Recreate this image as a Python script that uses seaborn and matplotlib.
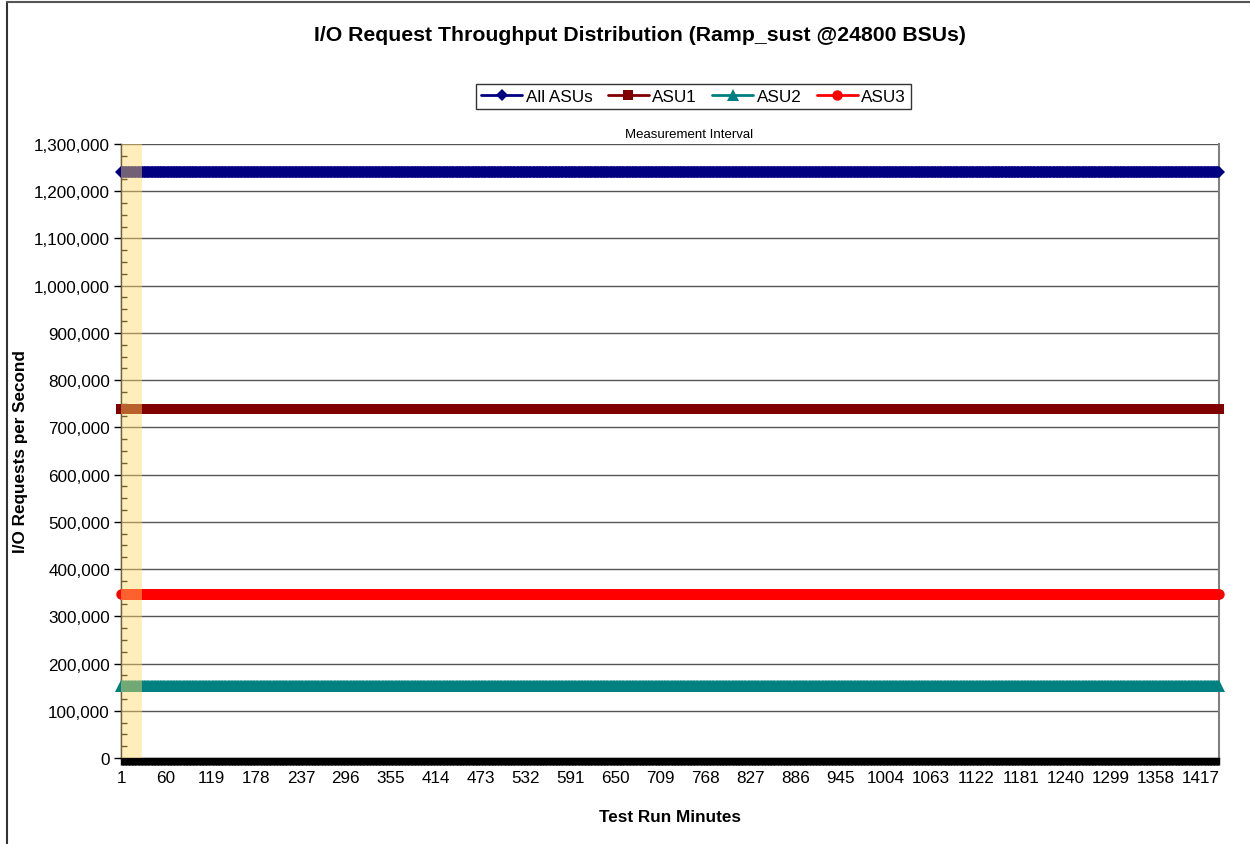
import numpy as np
import pandas as pd
import matplotlib
matplotlib.use("Agg")
import matplotlib.pyplot as plt
import seaborn as sns
from matplotlib.lines import Line2D
from matplotlib.ticker import MultipleLocator, FuncFormatter

sns.set_theme(style="white")
plt.rcParams['font.family'] = ['Liberation Sans', 'DejaVu Sans']
plt.rcParams['text.color'] = 'black'
plt.rcParams['axes.labelcolor'] = 'black'
plt.rcParams['xtick.color'] = 'black'
plt.rcParams['ytick.color'] = 'black'

# ---- data ----
n_minutes = 1441
minutes = list(range(1, n_minutes + 1))
series_names = ["All ASUs", "ASU1", "ASU2", "ASU3"]
all_asus = [1240000] * n_minutes
asu1 = [739800] * n_minutes
asu2 = [152500] * n_minutes
asu3 = [347700] * n_minutes
tick_labels = list(range(1, 1418, 59))
measurement_start = 1
measurement_end = 28

colors = ["#000080", "#800000", "#008080", "#FF0000"]
markers = ["D", "s", "^", "o"]
msizes = [6.5, 7, 8, 7.5]

fig = plt.figure(figsize=(12.5, 8.45), dpi=100)
ax = fig.add_axes([0.0968, 0.1018, 0.8784, 0.7266])

for name, vals, c, m, ms in zip(series_names, [all_asus, asu1, asu2, asu3], colors, markers, msizes):
    sns.lineplot(x=minutes, y=vals, ax=ax, color=c, marker=m, markersize=ms,
                 markeredgewidth=0, linewidth=2, clip_on=False, zorder=3, label=name)

ax.axvspan(measurement_start, measurement_end, color="#FFD966", alpha=0.45, zorder=4, lw=0)

ax.set_xlim(1, n_minutes)
ax.set_ylim(0, 1300000)
ax.yaxis.set_major_locator(MultipleLocator(100000))
ax.yaxis.set_minor_locator(MultipleLocator(25000))
ax.yaxis.set_major_formatter(FuncFormatter(lambda v, p: f"{int(v):,}"))
ax.set_xticks(tick_labels)
ax.set_xticklabels([str(t) for t in tick_labels])
ax.set_xticks(minutes, minor=True)

ax.grid(axis="y", which="major", color="#555555", linewidth=1.0, zorder=0)
ax.grid(axis="x", visible=False)
ax.set_axisbelow(True)

ax.spines["top"].set_visible(False)
ax.spines["right"].set_color("#808080")
ax.spines["right"].set_linewidth(1.5)
ax.spines["left"].set_color("black")
ax.spines["left"].set_linewidth(1)
ax.spines["bottom"].set_color("black")
ax.spines["bottom"].set_linewidth(1)

ax.tick_params(axis="y", which="major", direction="out", length=5, width=1, color="black",
               labelsize=12.3, pad=3, left=True)
ax.tick_params(axis="y", which="minor", direction="in", length=4, width=1, color="black", left=True)
ax.tick_params(axis="x", which="both", direction="out", length=5, width=1, color="black",
               labelsize=12.3, pad=4, bottom=True)

ax.set_xlabel("Test Run Minutes", fontsize=12.3, fontweight="bold", labelpad=17)
ax.set_ylabel("I/O Requests per Second", fontsize=12.3, fontweight="bold", labelpad=4)

fig.text(0.512, 0.958, "I/O Request Throughput Distribution (Ramp_sust @24800 BSUs)",
         ha="center", va="center", fontsize=15.3, fontweight="bold")
fig.text(0.551, 0.840, "Measurement Interval", ha="center", va="center", fontsize=9.5)

ax.get_legend().remove()
handles = [Line2D([0], [0], color=c, marker=m, markersize=ms, markeredgewidth=0, linewidth=2)
           for c, m, ms in zip(colors, markers, msizes)]
leg = fig.legend(handles, series_names, loc="center", bbox_to_anchor=(0.555, 0.885), ncol=4,
                 frameon=True, fancybox=False, fontsize=12.3, handlelength=2.4,
                 handletextpad=0.2, columnspacing=0.9, borderpad=0.3)
leg.get_frame().set_edgecolor("black")
leg.get_frame().set_linewidth(1)

fig.add_artist(Line2D([0.0056, 0.0056], [0, 0.996], color="#333333", lw=1.5, transform=fig.transFigure))
fig.add_artist(Line2D([0.0056, 1.0], [0.996, 0.996], color="#555555", lw=1.5, transform=fig.transFigure))

fig.savefig("out.png", dpi=100)
